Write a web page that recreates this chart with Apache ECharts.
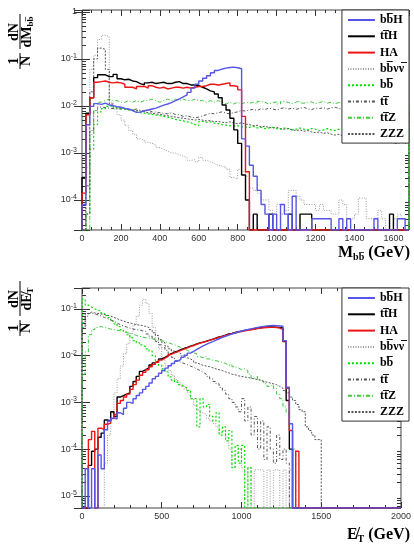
<!DOCTYPE html>
<html><head><meta charset="utf-8">
<script src="https://cdn.jsdelivr.net/npm/echarts@6/dist/echarts.min.js"></script>
<style>html,body{margin:0;padding:0;background:#fff}#c{width:414px;height:546px}</style>
</head><body><div id="c"></div>
<script>
// ---------- data ----------
const seriesNames = ['bb\u0305H', 'tt\u0305H', 'HA', 'bb\u0305\u03bd\u03bd\u0305', 'bb\u0305', 'tt\u0305', 'tt\u0305Z', 'ZZZ'];
const massBinWidth = 20;   // GeV, bins start at 0
const massRange = [0, 1680];
const massTickStep = 200;
const metBinWidth = 20;    // GeV, bins start at 0
const metRange = [0, 2000];
const metTickStep = 500;
const massYRange = [2.3e-5, 1.1];
const metYRange = [5.5e-6, 0.28];

// M_bb histograms (1/N dN/dM)
const massBBH = [8e-5,4e-3,0.0098,0.0112,0.0108,0.0115,0.0105,0.0102,0.0097,0.0094,
 0.0089,0.0086,0.0080,0.0073,0.0074,0.0079,0.0082,0.0086,0.0090,0.0097,
 0.0104,0.0110,0.0118,0.0130,0.0142,0.0156,0.0172,0.0195,0.0240,0.0290,
 0.0340,0.0390,0.0440,0.0510,0.0570,0.0610,0.0640,0.0660,0.0670,0.0650,
 0.0620,0.0020,0.0014,0.00055,0.00032,0.00016,0.00008,0.00005,0,0.00005,
 0,0.00008,0.00005,0,0.00012,0,0,0,0,0.00004,
 0.00004,0.00004,0.00004,0.00004,0,0,0.00004,0,0.00004,0,
 0,0,0,0,0,0.00004,0,0,0,0,
 0,0.00004,0.00004,0];
const massTTH = [3e-4,0.007,0.015,0.040,0.046,0.046,0.042,0.042,0.047,0.038,
 0.036,0.037,0.034,0.033,0.030,0.028,0.031,0.032,0.030,0.031,
 0.032,0.030,0.030,0.032,0.033,0.030,0.030,0.028,0.028,0.027,
 0.025,0.023,0.021,0.020,0.018,0.015,0.0105,0.0082,0.0055,0.0031,
 0.0016,0.00034,0.0001,0,0.00005,0,0,0,0.00005,0,
 0,0,0,0.00005,0,0,0.00005,0.00005,0.00005,0,
 0,0,0,0,0,0,0,0,0,0,
 0,0,0,0,0,0,0,0,0,0.00005,
 0,0,0,0];
const massHA = [1.4e-4,0.0065,0.015,0.032,0.033,0.034,0.032,0.031,0.032,0.031,
 0.029,0.025,0.025,0.023,0.026,0.026,0.024,0.027,0.025,0.024,
 0.025,0.023,0.024,0.025,0.025,0.024,0.025,0.024,0.025,0.026,
 0.026,0.027,0.029,0.029,0.028,0.029,0.030,0.031,0.027,0.026,
 0.022,0.006,0.0004,0,0,0,0,0,0,0,
 0,0,0,0,0,0,0,0,0,0,
 0,0,0,0,0,0,0,0,0,0,
 0,0,0,0,0,0,0,0,0,0,
 0,0,0,0];
const massBBVV = [0,5e-4,0.06,0.12,0.26,0.32,0.30,0.012,0.0085,0.0065,
 0.0050,0.0038,0.0030,0.0025,0.0020,0.0019,0.0017,0.0016,0.0015,0.0013,
 0.0012,0.0011,0.0010,0.0010,0.00092,0.00085,0.0008,0.0007,0.00072,0.00065,
 0.0008,0.0007,0.00065,0.0006,0.00055,0.00052,0.0005,0.00045,0.0003,0.00028,
 0.00045,0.0004,0.00032,0.00018,0.00016,0.00014,0.0001,0.0001,0.00006,0.00005,
 0.00008,0.00005,0.00006,0.00016,0.00016,0.00012,0.0001,0.00008,0.00008,0.00008,
 0.00006,0.00008,0.00006,0.00006,0.00005,0.00005,0.0001,0.00008,0.00004,0.00004,
 0.00005,0.00011,0.00011,0.00004,0.00004,0.00004,0.00006,0.00004,0,0,
 0.00004,0.00005,0.00004,0.00004];
const massBB = [0,5e-5,0.0012,0.004,0.0075,0.0088,0.0098,0.0100,0.0090,0.0088,
 0.0085,0.0082,0.0080,0.0075,0.0072,0.0070,0.0068,0.0066,0.0064,0.0062,
 0.0060,0.0058,0.0055,0.0052,0.0050,0.0048,0.0046,0.0044,0.0040,0.0038,
 0.0047,0.0045,0.0046,0.0043,0.0042,0.0040,0.0039,0.0038,0.0037,0.0038,
 0.0036,0.0036,0.0035,0.0037,0.0034,0.0035,0.0033,0.0034,0.0035,0.0033,
 0.0032,0.0034,0.0033,0.0031,0.0032,0.0034,0.0032,0.0031,0.0033,0.0032,
 0.0030,0.0031,0.0033,0.0031,0.0030,0.0032,0.0031,0.0029,0.0030,0.0031,
 0.0029,0.0030,0.0031,0.0029,0.0028,0.0030,0.0029,0.0028,0.0029,0.0028,
 0.0027,0.0029,0.0028,0.0027];
const massTT = [0,5e-5,0.003,0.008,0.0095,0.0092,0.0090,0.0088,0.0090,0.0085,
 0.0088,0.0084,0.0082,0.0086,0.0080,0.0078,0.0082,0.0075,0.0074,0.0072,
 0.0070,0.0068,0.0072,0.0066,0.0065,0.0060,0.0062,0.0058,0.0056,0.0058,
 0.0062,0.0065,0.0070,0.0068,0.0072,0.0075,0.0070,0.0068,0.0072,0.0075,
 0.0080,0.0078,0.0082,0.0085,0.0080,0.0088,0.0084,0.0090,0.0086,0.0082,
 0.0088,0.0092,0.0086,0.0090,0.0085,0.0089,0.0093,0.0087,0.0084,0.0090,
 0.0088,0.0092,0.0086,0.0091,0.0094,0.0088,0.0085,0.0090,0.0087,0.0092,
 0.0089,0.0086,0.0091,0.0088,0.0093,0.0087,0.0090,0.0085,0.0089,0.0092,
 0.0088,0.0086,0.0090,0.0087];
const massTTZ = [0,0,0.0025,0.008,0.012,0.013,0.014,0.013,0.013,0.012,
 0.012,0.013,0.012,0.013,0.012,0.013,0.013,0.014,0.013,0.012,
 0.013,0.014,0.013,0.014,0.013,0.014,0.013,0.013,0.014,0.013,
 0.013,0.012,0.013,0.012,0.013,0.012,0.011,0.012,0.011,0.012,
 0.011,0.012,0.0115,0.012,0.011,0.0125,0.012,0.011,0.0118,0.0122,
 0.011,0.0125,0.0118,0.0112,0.012,0.0128,0.0115,0.012,0.0122,0.0112,
 0.0118,0.0125,0.0115,0.012,0.0112,0.0118,0.0122,0.0115,0.011,0.012,
 0.0118,0.0124,0.0113,0.0117,0.012,0.0112,0.0118,0.0115,0.0121,0.0116,
 0.0112,0.0119,0.0115,0.0118];
const massZZZ = [0,2e-4,0.02,0.10,0.17,0.16,0.06,0.011,0.0095,0.0093,
 0.0090,0.0086,0.0083,0.0080,0.0078,0.0075,0.0072,0.0070,0.0068,0.0066,
 0.0064,0.0062,0.0060,0.0058,0.0056,0.0055,0.0053,0.0052,0.0050,0.0052,
 0.0050,0.0048,0.0049,0.0046,0.0047,0.0045,0.0044,0.0046,0.0043,0.0042,
 0.0044,0.0041,0.0040,0.0038,0.0039,0.0036,0.0037,0.0035,0.0034,0.0035,
 0.0033,0.0032,0.0033,0.0031,0.0030,0.0031,0.0029,0.0030,0.0028,0.0027,
 0.0028,0.0026,0.0027,0.0025,0.0024,0.0025,0.0023,0.0022,0.0023,0.0021,
 0.0022,0.0020,0.0021,0.0019,0.0020,0.0018,0.0019,0.0018,0.0017,0.0018,
 0.0016,0.0017,0.0016,0.0017];

// Missing E_T histograms (1/N dN/dMET)
const metBBH = [0,3.8e-5,0,3.8e-5,0,7.5e-5,3.8e-5,2.6e-4,4.0e-4,4.6e-4,
 4.4e-4,6.0e-4,5.5e-4,7.5e-4,1.0e-3,9.5e-4,1.2e-3,1.4e-3,1.6e-3,1.9e-3,
 2.2e-3,2.6e-3,3.2e-3,3.6e-3,4.2e-3,4.8e-3,5.4e-3,6.1e-3,6.8e-3,7.6e-3,
 8.3e-3,9.2e-3,0.0102,0.0113,0.0124,0.0136,0.0149,0.0162,0.0175,0.0188,
 0.0200,0.0215,0.0230,0.0245,0.0260,0.0275,0.0290,0.0305,0.0320,0.0335,
 0.0350,0.0362,0.0375,0.0388,0.0400,0.0412,0.0422,0.0430,0.0436,0.0440,
 0.0438,0.0432,0.0425,0.0210,0.0021,0.00035,0,0,0,0,
 0,0,0,0,0,0,0,0,0,0,
 0,0,0,0,0,0,0,0,0,0,
 0,0,0,0,0,0,0,0,0,0];
const metTTH = [0,0,4.5e-5,9e-5,1.0e-4,1.8e-4,2.2e-4,4.2e-4,4.0e-4,6.3e-4,
 5.0e-4,1.3e-3,1.4e-3,1.5e-3,1.6e-3,2.2e-3,2.8e-3,3.6e-3,4.6e-3,5.0e-3,
 5.5e-3,6.3e-3,7.0e-3,7.6e-3,8.5e-3,9.2e-3,0.0100,0.0110,0.0118,0.0125,
 0.0135,0.0142,0.0150,0.0160,0.0168,0.0178,0.0188,0.0195,0.0205,0.0215,
 0.0225,0.0238,0.0250,0.0262,0.0275,0.0290,0.0300,0.0312,0.0325,0.0335,
 0.0345,0.0355,0.0365,0.0375,0.0385,0.0395,0.0405,0.0410,0.0415,0.0410,
 0.0405,0.0400,0.0390,0.0200,0.0011,0.0001,0,0,0,0,
 0,0,0,0,0,0,0,0,0,0,
 0,0,0,0,0,0,0,0,0,0,
 0,0,0,0,0,0,0,0,0,0];
const metHA = [0,0,1.6e-4,2.4e-4,0,2.8e-4,2.6e-4,3.4e-4,3.6e-4,4.5e-4,
 5.5e-4,9.5e-4,1.1e-3,1.3e-3,1.5e-3,1.9e-3,2.4e-3,3.0e-3,3.8e-3,4.4e-3,
 5.0e-3,5.8e-3,6.5e-3,7.2e-3,8.0e-3,8.8e-3,9.6e-3,0.0106,0.0114,0.0122,
 0.0130,0.0138,0.0147,0.0156,0.0165,0.0175,0.0185,0.0193,0.0202,0.0212,
 0.0222,0.0235,0.0247,0.0258,0.0270,0.0283,0.0295,0.0305,0.0318,0.0328,
 0.0338,0.0348,0.0358,0.0368,0.0378,0.0388,0.0395,0.0400,0.0405,0.0402,
 0.0398,0.0392,0.0360,0.0205,0.0020,0.00025,0,9e-5,0,0,
 0,0,0,0,0,0,0,0,0,0,
 0,0,0,0,0,0,0,0,0,0,
 0,0,0,0,0,0,0,0,0,0];
const metBBVV = [0,0,0,0,0,0,0,5e-5,2.0e-4,6e-4,
 1.6e-3,3.2e-3,6.0e-3,0.011,0.018,0.030,0.045,0.070,0.12,0.16,
 0.13,0.080,0.040,0.022,0.014,0.0085,0.0062,0.0048,0.0038,0.0031,
 0.0026,0.0022,0.0019,0.0016,0.0012,8.5e-4,7.0e-4,6.0e-4,5.5e-4,4.5e-4,
 4.0e-4,3.5e-4,3.0e-4,2.2e-4,2.5e-4,1.8e-4,1.0e-4,4e-5,8e-5,1.0e-4,
 4e-5,0,4e-5,0,3.6e-5,3.6e-5,3.6e-5,0,3.6e-5,0,
 3.6e-5,3.6e-5,0,3.6e-5,0,3.6e-5,0,0,0,0,
 0,0,0,0,0,0,0,0,0,0,
 0,0,0,0,0,0,0,0,0,0,
 0,0,0,0,0,0,0,0,0,0];
const metBB = [0.16,0.12,0.11,0.10,0.095,0.09,0.08,0.072,0.065,0.055,
 0.048,0.042,0.036,0.032,0.028,0.024,0.021,0.019,0.017,0.0155,
 0.014,0.0125,0.0100,0.0075,0.0062,0.0052,0.0045,0.0035,0.0030,0.0027,
 0.0024,0.0022,0.0020,0.0018,0.0012,0.0012,3e-4,1.2e-3,8e-4,9e-4,
 5e-4,4e-4,6e-4,2e-4,3e-4,1.5e-4,2.5e-4,4e-5,1.2e-4,5e-5,
 1.2e-4,0,4e-5,0,0,0,0,0,0,0,
 0,0,0,0,0,0,0,0,0,0,
 0,0,0,0,0,0,0,0,0,0,
 0,0,0,0,0,0,0,0,0,0,
 0,0,0,0,0,0,0,0,0,0];
const metTT = [0.04,0.07,0.08,0.078,0.075,0.070,0.066,0.062,0.058,0.054,
 0.050,0.046,0.043,0.041,0.039,0.037,0.036,0.035,0.034,0.033,
 0.029,0.026,0.023,0.020,0.017,0.015,0.013,0.011,0.0092,0.0078,
 0.0072,0.0068,0.0064,0.0060,0.0056,0.0052,0.0048,0.0044,0.0040,0.0036,
 0.0032,0.0028,0.0025,0.0021,0.0018,0.0015,0.0012,0.0010,8e-4,6.3e-4,
 1.2e-3,4e-4,8e-4,2e-4,5e-4,1e-4,4e-4,6e-5,3e-4,1e-4,
 5e-5,2e-4,6e-5,1e-4,5e-5,0,0,0,0,0,
 0,0,0,0,0,0,0,0,0,0,
 0,0,0,0,0,0,0,0,0,0,
 0,0,0,0,0,0,0,0,0,0];
const metTTZ = [0.004,0.012,0.028,0.036,0.040,0.042,0.040,0.039,0.037,0.036,
 0.035,0.034,0.033,0.031,0.030,0.029,0.027,0.026,0.025,0.024,
 0.024,0.023,0.022,0.021,0.021,0.020,0.019,0.018,0.017,0.016,
 0.015,0.014,0.013,0.012,0.0115,0.011,0.0095,0.0090,0.0095,0.0085,
 0.0080,0.0078,0.0075,0.0072,0.0068,0.0062,0.0065,0.0058,0.0055,0.0050,
 0.0052,0.0048,0.0040,0.0033,0.0036,0.0030,0.0028,0.0025,0.0022,0.0024,
 0.0020,0.0015,0.0012,8e-4,6e-4,3e-4,1e-4,0,0,0,
 0,0,0,0,0,0,0,0,0,0,
 0,0,0,0,0,0,0,0,0,0,
 0,0,0,0,0,0,0,0,0,0];
const metZZZ = [0.05,0.08,0.085,0.082,0.080,0.078,0.076,0.073,0.070,0.066,
 0.062,0.058,0.055,0.052,0.050,0.048,0.046,0.045,0.044,0.042,
 0.040,0.036,0.031,0.027,0.022,0.019,0.016,0.014,0.0125,0.012,
 0.011,0.0098,0.0090,0.0085,0.0078,0.0070,0.0066,0.0062,0.0060,0.0058,
 0.0055,0.0052,0.0050,0.0048,0.0045,0.0043,0.0040,0.0039,0.0037,0.0036,
 0.0035,0.0034,0.0033,0.0032,0.0031,0.0030,0.0028,0.0027,0.0026,0.0025,
 0.0024,0.0022,0.0020,0.0018,0.0016,0.0013,0.0011,9e-4,7e-4,6.3e-4,
 3e-4,2.5e-4,2e-4,1.6e-4,1.6e-4,0,0,0,0,0,
 0,0,0,0,0,0,0,0,0,0,
 0,0,0,0,0,0,0,0,0,0];

// ---------- styles ----------
const styleOf = {};
styleOf[seriesNames[0]] = {color:'#5555e6', width:1.4, type:'solid'};
styleOf[seriesNames[1]] = {color:'#000000', width:1.4, type:'solid'};
styleOf[seriesNames[2]] = {color:'#ee1515', width:1.4, type:'solid'};
styleOf[seriesNames[3]] = {color:'#9a9a9a', width:1, type:[1,1.5]};
styleOf[seriesNames[4]] = {color:'#00e000', width:1.2, type:[2,2]};
styleOf[seriesNames[5]] = {color:'#555555', width:1, type:[3,2,1,2]};
styleOf[seriesNames[6]] = {color:'#3cc83c', width:1, type:[4,2,1,2]};
styleOf[seriesNames[7]] = {color:'#555555', width:1, type:[2,1.5]};

function histPoints(values, width, floor) {
  const pts = [[0, floor]];
  for (let i = 0; i < values.length; i++) pts.push([i * width, values[i] > 0 ? values[i] : floor]);
  const last = values[values.length - 1];
  pts.push([values.length * width, last > 0 ? last : floor]);
  pts.push([values.length * width, floor]);
  return pts;
}

const massSets = [massBBH, massTTH, massHA, massBBVV, massBB, massTT, massTTZ, massZZZ];
const metSets = [metBBH, metTTH, metHA, metBBVV, metBB, metTT, metTTZ, metZZZ];
const drawOrder = [3, 4, 5, 6, 7, 1, 2, 0];

const series = [];
function addPanel(sets, binW, floor, xi, yi) {
  drawOrder.forEach(k => {
    const nm = seriesNames[k], st = styleOf[nm];
    series.push({
      type: 'line', name: nm, xAxisIndex: xi, yAxisIndex: yi, step: 'end',
      data: histPoints(sets[k], binW, floor), symbol: 'none', showSymbol: false,
      lineStyle: {color: st.color, width: st.width, type: st.type},
      itemStyle: {color: st.color}, silent: true, clip: true, animation: false
    });
  });
}
addPanel(massSets, massBinWidth, massYRange[0], 0, 0);
addPanel(metSets, metBinWidth, metYRange[0], 2, 2);

// minor log ticks (2..9 x 10^n) drawn inside both vertical frame edges
const minorLogTicks = [];
for (let e = -7; e <= 0; e++) for (let k = 2; k <= 9; k++) minorLogTicks.push(k * Math.pow(10, e));
function minorTickSeries(xi, yi) {
  return {
    type: 'custom', xAxisIndex: xi, yAxisIndex: yi, silent: true, animation: false,
    data: minorLogTicks.map(v => [0, v]),
    renderItem: function (params, api) {
      const p = api.coord([0, api.value(1)]);
      const cs = params.coordSys;
      if (p[1] < cs.y || p[1] > cs.y + cs.height) return;
      const s = {stroke: '#333', lineWidth: 1};
      const yy = Math.round(p[1]) + 0.5;
      return {type: 'group', children: [
        {type: 'line', shape: {x1: cs.x, y1: yy, x2: cs.x + 4, y2: yy}, style: s},
        {type: 'line', shape: {x1: cs.x + cs.width - 4, y1: yy, x2: cs.x + cs.width, y2: yy}, style: s}
      ]};
    }
  };
}
series.push(minorTickSeries(0, 0));
series.push(minorTickSeries(2, 2));

// ---------- axes ----------
const tickColor = '#333';
function xAxisDef(grid, range, step, minorSplit, pos, showLabel) {
  return {
    gridIndex: grid, type: 'value', min: range[0], max: range[1], interval: step, position: pos,
    axisLine: {show: false}, splitLine: {show: false},
    axisTick: {show: true, inside: true, length: 6, lineStyle: {color: tickColor}},
    minorTick: {show: true, splitNumber: minorSplit, length: 3, lineStyle: {color: tickColor}},
    axisLabel: {show: showLabel, fontSize: 9, color: '#333', margin: 4, fontFamily: 'Liberation Sans',
      formatter: v => (v % step === 0 ? String(v) : ''),
      showMaxLabel: true}
  };
}
function logLabel(v) {
  const e = Math.log10(v), r = Math.round(e);
  if (Math.abs(e - r) > 1e-6) return '';
  return r === 0 ? '1' : '10{s|' + r + '}';
}
function yAxisDef(grid, range, pos, showLabel) {
  return {
    gridIndex: grid, type: 'log', logBase: 10, min: range[0], max: range[1], position: pos,
    axisLine: {show: false}, splitLine: {show: false},
    axisTick: {show: true, inside: true, length: 8, lineStyle: {color: tickColor}},
    axisLabel: {show: showLabel, formatter: logLabel, fontSize: 9, color: '#333', margin: 5,
      fontFamily: 'Liberation Sans', showMinLabel: true, showMaxLabel: true, hideOverlap: false,
      rich: {s: {fontSize: 7, color: '#333', fontFamily: 'Liberation Sans', padding: [0, 0, 6, 0]}}}
  };
}

const serifB = 'bold 14px "Liberation Serif"';
function yTitle(gx, gy, denomRich) {
  return {
    type: 'group', x: gx, y: gy, rotation: Math.PI / 2, silent: true,
    children: [
      {type: 'text', x: 8, y: -6, style: {text: '1', font: serifB, fill: '#000', align: 'center', verticalAlign: 'middle'}},
      {type: 'line', shape: {x1: 0, y1: 0, x2: 16, y2: 0}, style: {stroke: '#000', lineWidth: 1}},
      {type: 'text', x: 8, y: 6, style: {text: 'N', font: serifB, fill: '#000', align: 'center', verticalAlign: 'middle'}},
      {type: 'text', x: 37, y: -6, style: {text: 'dN', font: serifB, fill: '#000', align: 'center', verticalAlign: 'middle'}},
      {type: 'line', shape: {x1: 20, y1: 0, x2: 55, y2: 0}, style: {stroke: '#000', lineWidth: 1}},
      {type: 'text', x: 37, y: 7, style: {text: denomRich, align: 'center', verticalAlign: 'middle',
        rich: {a: {font: serifB, fill: '#000'}, s: {font: 'bold 9px "Liberation Serif"', fill: '#000', padding: [7, 0, 0, 0]}}}}
    ]
  };
}

const legendBase = {
  data: seriesNames, orient: 'vertical', right: 5, itemWidth: 27, itemHeight: 10, itemGap: 4.3,
  padding: [4, 5, 3, 5], borderColor: '#333', borderWidth: 1, backgroundColor: '#fff',
  selectedMode: false, align: 'left',
  itemStyle: {opacity: 0, borderWidth: 0},
  textStyle: {fontFamily: 'Liberation Serif', fontWeight: 'bold', fontSize: 12, color: '#000'}
};

const option = {
  animation: false,
  grid: [
    {left: 82, top: 10, width: 327, height: 220, show: true, borderColor: '#444', borderWidth: 1, backgroundColor: 'transparent'},
    {left: 82, top: 288, width: 327, height: 220, show: true, borderColor: '#444', borderWidth: 1, backgroundColor: 'transparent'}
  ],
  xAxis: [
    xAxisDef(0, massRange, massTickStep, 4, 'bottom', true),
    xAxisDef(0, massRange, massTickStep, 4, 'top', false),
    xAxisDef(1, metRange, metTickStep, 5, 'bottom', true),
    xAxisDef(1, metRange, metTickStep, 5, 'top', false)
  ],
  yAxis: [
    yAxisDef(0, massYRange, 'left', true),
    yAxisDef(0, massYRange, 'right', false),
    yAxisDef(1, metYRange, 'left', true),
    yAxisDef(1, metYRange, 'right', false)
  ],
  legend: [
    Object.assign({}, legendBase, {top: 10}),
    Object.assign({}, legendBase, {top: 288})
  ],
  series: series,
  graphic: [
    yTitle(20, 69, '{a|dM}{s|bb\u0305}'),
    yTitle(20, 336, '{a|dE\u0338}{s|T}'),
    {type: 'text', right: 4, top: 245, silent: true,
      style: {text: '{b|M}{s|bb\u0305}{b| (GeV)}',
        rich: {b: {font: 'bold 16px "Liberation Serif"', fill: '#000'}, s: {font: 'bold 10px "Liberation Serif"', fill: '#000', padding: [9, 0, 0, 0]}}}},
    {type: 'text', right: 4, top: 527, silent: true,
      style: {text: '{b|E\u0338}{s|T}{b| (GeV)}',
        rich: {b: {font: 'bold 16px "Liberation Serif"', fill: '#000'}, s: {font: 'bold 10px "Liberation Serif"', fill: '#000', padding: [9, 0, 0, 0]}}}}
  ]
};

const chart = echarts.init(document.getElementById('c'), null, {renderer: 'canvas'});
chart.setOption(option);
</script>
</body></html>
